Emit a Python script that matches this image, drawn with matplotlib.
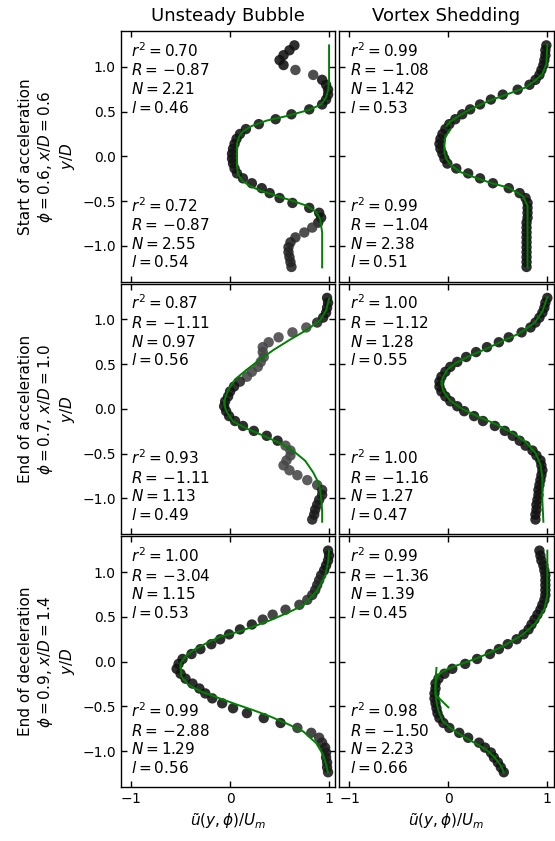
import matplotlib
matplotlib.use("Agg")
import matplotlib.pyplot as plt

# ---------------------------------------------------------------------------
# data: sampled wake profiles u(y)/U_m on a common y/D grid, plus fitted curves
# ---------------------------------------------------------------------------
y_grid = [1.24, 1.185, 1.13, 1.075, 1.02, 0.965, 0.91, 0.855, 0.80, 0.745,
          0.69, 0.635, 0.58, 0.525, 0.47, 0.415, 0.36, 0.305, 0.25, 0.195,
          0.14, 0.085, 0.03, -0.025, -0.08, -0.135, -0.19, -0.245, -0.30, -0.355,
          -0.41, -0.465, -0.52, -0.575, -0.63, -0.685, -0.74, -0.795, -0.85, -0.905,
          -0.96, -1.015, -1.07, -1.125, -1.18, -1.235]

col_titles = ["Unsteady Bubble", "Vortex Shedding"]
row_labels = ["Start of acceleration\n$\\phi = 0.6$, $x/D = 0.6$\n$y/D$",
              "End of acceleration\n$\\phi = 0.7$, $x/D = 1.0$\n$y/D$",
              "End of deceleration\n$\\phi = 0.9$, $x/D = 1.4$\n$y/D$"]

# Unsteady bubble, start of acceleration
ub_start_u = [0.65, 0.60, 0.54, 0.50, 0.54, 0.66, 0.84, 0.93, 0.97, 0.99,
              0.99, 0.97, 0.93, 0.80, 0.62, 0.46, 0.29, 0.16, 0.10, 0.065,
              0.045, 0.03, 0.02, 0.02, 0.03, 0.045, 0.07, 0.13, 0.22, 0.32,
              0.40, 0.50, 0.63, 0.80, 0.90, 0.92, 0.89, 0.83, 0.75, 0.66,
              0.61, 0.59, 0.59, 0.60, 0.61, 0.62]
ub_start_shade = [0.1, 0.1, 0.1, 0.1, 0.1, 0.3, 0.3, 0.1, 0.1, 0.1,
                  0.1, 0.1, 0.1, 0.1, 0.1, 0.1, 0.1, 0.1, 0.1, 0.1,
                  0.1, 0.1, 0.1, 0.1, 0.1, 0.1, 0.1, 0.1, 0.1, 0.1,
                  0.1, 0.1, 0.1, 0.1, 0.1, 0.1, 0.15, 0.3, 0.3, 0.25,
                  0.2, 0.2, 0.2, 0.2, 0.2, 0.2]
ub_start_fit_up_y = [1.24, 1.00, 0.85, 0.74, 0.66, 0.58, 0.52, 0.45, 0.40, 0.34, 0.28, 0.22, 0.14, 0.00, -0.10]
ub_start_fit_up_u = [1.00, 1.00, 1.00, 0.99, 0.97, 0.92, 0.80, 0.57, 0.37, 0.22, 0.13, 0.09, 0.07, 0.07, 0.07]
ub_start_fit_lo_y = [0.10, -0.10, -0.20, -0.27, -0.33, -0.38, -0.44, -0.50, -0.55, -0.62, -0.70, -0.85, -1.05, -1.24]
ub_start_fit_lo_u = [0.07, 0.07, 0.08, 0.12, 0.20, 0.30, 0.47, 0.64, 0.77, 0.87, 0.91, 0.93, 0.93, 0.93]
ub_start_stats = [(0.70, -0.87, 2.21, 0.46), (0.72, -0.87, 2.55, 0.54)]

# Vortex shedding, start of acceleration
vs_start_u = [0.99, 0.98, 0.98, 0.97, 0.96, 0.94, 0.92, 0.88, 0.82, 0.70,
              0.55, 0.43, 0.32, 0.22, 0.14, 0.07, 0.01, -0.03, -0.06, -0.08,
              -0.09, -0.08, -0.06, -0.04, -0.01, 0.08, 0.20, 0.32, 0.45, 0.61,
              0.72, 0.78, 0.80, 0.80, 0.80, 0.80, 0.79, 0.79, 0.79, 0.79,
              0.79, 0.79, 0.79, 0.79, 0.79, 0.79]
vs_start_shade = [0.1] * 46
vs_start_fit_up_y = [1.25, 1.03, 0.92, 0.85, 0.77, 0.70, 0.62, 0.52, 0.44, 0.39, 0.34]
vs_start_fit_up_u = [1.00, 0.99, 0.95, 0.88, 0.78, 0.61, 0.41, 0.21, 0.09, 0.02, -0.02]
vs_start_fit_lo_y = [0.30, 0.22, 0.12, 0.04, -0.03, -0.09, -0.17, -0.24, -0.30, -0.35, -0.44, -0.55, -0.70, -1.24]
vs_start_fit_lo_u = [0.02, -0.03, -0.04, -0.04, -0.02, 0.02, 0.11, 0.28, 0.44, 0.61, 0.75, 0.80, 0.80, 0.80]
vs_start_stats = [(0.99, -1.08, 1.42, 0.53), (0.99, -1.04, 2.38, 0.51)]

# Unsteady bubble, end of acceleration
ub_acc_u = [0.98, 0.99, 0.98, 0.97, 0.94, 0.88, 0.77, 0.63, 0.49, 0.39,
            0.33, 0.33, 0.34, 0.31, 0.28, 0.22, 0.17, 0.10, 0.04, 0.00,
            -0.02, -0.05, -0.06, -0.04, -0.01, 0.05, 0.13, 0.24, 0.37, 0.48,
            0.56, 0.61, 0.61, 0.57, 0.54, 0.60, 0.68, 0.78, 0.88, 0.93,
            0.93, 0.90, 0.88, 0.86, 0.85, 0.83]
ub_acc_shade = [0.1, 0.1, 0.1, 0.1, 0.1, 0.2, 0.4, 0.4, 0.4, 0.4,
                0.4, 0.4, 0.4, 0.4, 0.4, 0.4, 0.4, 0.2, 0.1, 0.1,
                0.1, 0.1, 0.1, 0.1, 0.1, 0.1, 0.1, 0.1, 0.1, 0.1,
                0.4, 0.4, 0.4, 0.4, 0.4, 0.4, 0.4, 0.4, 0.35, 0.2,
                0.15, 0.15, 0.15, 0.15, 0.15, 0.15]
ub_acc_fit_up_y = [1.23, 1.10, 0.99, 0.88, 0.77, 0.66, 0.55, 0.44, 0.33, 0.21, 0.12, 0.05]
ub_acc_fit_up_u = [1.00, 0.97, 0.91, 0.77, 0.60, 0.44, 0.30, 0.17, 0.05, -0.02, -0.05, -0.06]
ub_acc_fit_lo_y = [0.09, 0.01, -0.04, -0.14, -0.22, -0.30, -0.38, -0.47, -0.58, -0.71, -0.84, -0.99, -1.14, -1.26]
ub_acc_fit_lo_u = [-0.06, -0.05, -0.03, 0.03, 0.17, 0.34, 0.50, 0.64, 0.76, 0.84, 0.90, 0.92, 0.93, 0.93]
ub_acc_stats = [(0.87, -1.11, 0.97, 0.56), (0.93, -1.11, 1.13, 0.49)]

# Vortex shedding, end of acceleration
vs_acc_u = [1.00, 0.98, 0.97, 0.95, 0.92, 0.88, 0.83, 0.74, 0.61, 0.51,
            0.39, 0.28, 0.18, 0.09, 0.02, -0.03, -0.07, -0.09, -0.09, -0.07,
            -0.03, 0.02, 0.09, 0.16, 0.26, 0.35, 0.47, 0.57, 0.65, 0.72,
            0.78, 0.85, 0.89, 0.93, 0.94, 0.95, 0.94, 0.93, 0.92, 0.91,
            0.91, 0.90, 0.89, 0.89, 0.88, 0.88]
vs_acc_shade = [0.1] * 46
vs_acc_fit_up_y = [1.25, 1.09, 0.96, 0.84, 0.76, 0.67, 0.59, 0.51, 0.44, 0.34, 0.27]
vs_acc_fit_up_u = [1.00, 0.95, 0.87, 0.71, 0.55, 0.38, 0.21, 0.07, -0.01, -0.06, -0.07]
vs_acc_fit_lo_y = [0.31, 0.23, 0.18, 0.09, 0.00, -0.09, -0.17, -0.27, -0.37, -0.49, -0.62, -0.77, -1.03, -1.26]
vs_acc_fit_lo_u = [-0.07, -0.06, -0.04, 0.02, 0.14, 0.31, 0.48, 0.65, 0.78, 0.88, 0.93, 0.95, 0.95, 0.96]
vs_acc_stats = [(1.00, -1.12, 1.28, 0.55), (1.00, -1.16, 1.27, 0.47)]

# Unsteady bubble, end of deceleration
ub_dec_u = [0.99, 1.00, 0.99, 0.97, 0.95, 0.92, 0.90, 0.88, 0.86, 0.83,
            0.78, 0.70, 0.56, 0.43, 0.33, 0.22, 0.10, -0.01, -0.10, -0.19,
            -0.30, -0.39, -0.48, -0.52, -0.54, -0.50, -0.45, -0.38, -0.31, -0.25,
            -0.18, -0.08, 0.03, 0.17, 0.34, 0.51, 0.68, 0.82, 0.90, 0.93,
            0.96, 0.97, 0.97, 0.98, 0.98, 0.99]
ub_dec_shade = [0.1, 0.1, 0.1, 0.1, 0.1, 0.15, 0.2, 0.2, 0.2, 0.2,
                0.25, 0.25, 0.25, 0.25, 0.2, 0.1, 0.1, 0.1, 0.1, 0.1,
                0.1, 0.1, 0.1, 0.1, 0.1, 0.1, 0.1, 0.1, 0.1, 0.1,
                0.1, 0.1, 0.1, 0.1, 0.1, 0.1, 0.25, 0.25, 0.25, 0.2,
                0.15, 0.15, 0.15, 0.15, 0.15, 0.15]
ub_dec_fit_up_y = [1.24, 1.11, 0.96, 0.78, 0.63, 0.54, 0.46, 0.39, 0.33, 0.28, 0.20, 0.13, 0.06, -0.02, -0.07]
ub_dec_fit_up_u = [1.00, 0.99, 0.96, 0.87, 0.74, 0.57, 0.40, 0.23, 0.07, -0.10, -0.25, -0.37, -0.45, -0.50, -0.50]
ub_dec_fit_lo_y = [-0.06, -0.17, -0.26, -0.33, -0.40, -0.48, -0.54, -0.61, -0.69, -0.78, -0.91, -1.04, -1.15, -1.24]
ub_dec_fit_lo_u = [-0.50, -0.49, -0.42, -0.30, -0.13, 0.07, 0.23, 0.40, 0.57, 0.74, 0.87, 0.94, 0.97, 0.99]
ub_dec_stats = [(1.00, -3.04, 1.15, 0.53), (0.99, -2.88, 1.29, 0.56)]

# Vortex shedding, end of deceleration
vs_dec_u = [0.92, 0.93, 0.94, 0.96, 0.97, 0.98, 0.98, 0.98, 0.98, 0.98,
            0.97, 0.95, 0.93, 0.90, 0.87, 0.84, 0.81, 0.76, 0.69, 0.60,
            0.51, 0.42, 0.29, 0.17, 0.04, -0.04, -0.10, -0.13, -0.13, -0.14,
            -0.14, -0.13, -0.12, -0.11, -0.09, -0.05, 0.01, 0.11, 0.20, 0.31,
            0.37, 0.43, 0.46, 0.50, 0.53, 0.56]
vs_dec_shade = [0.1] * 46
vs_dec_fit_up_y = [1.24, 0.96, 0.74, 0.59, 0.43, 0.30, 0.19, 0.09, 0.03, -0.06, -0.11, -0.16, -0.25, -0.37, -0.51]
vs_dec_fit_up_u = [1.00, 1.00, 1.00, 0.97, 0.88, 0.75, 0.58, 0.40, 0.27, 0.04, -0.06, -0.11, -0.13, -0.13, 0.00]
vs_dec_fit_lo_y = [-0.07, -0.20, -0.35, -0.45, -0.55, -0.66, -0.74, -0.83, -0.91, -0.98, -1.06, -1.16, -1.24]
vs_dec_fit_lo_u = [-0.12, -0.13, -0.13, -0.12, -0.10, -0.06, 0.02, 0.14, 0.27, 0.38, 0.46, 0.53, 0.56]
vs_dec_stats = [(0.99, -1.36, 1.39, 0.45), (0.98, -1.50, 2.23, 0.66)]

panels = [
    [(ub_start_u, ub_start_shade, ub_start_fit_up_y, ub_start_fit_up_u, ub_start_fit_lo_y, ub_start_fit_lo_u, ub_start_stats),
     (vs_start_u, vs_start_shade, vs_start_fit_up_y, vs_start_fit_up_u, vs_start_fit_lo_y, vs_start_fit_lo_u, vs_start_stats)],
    [(ub_acc_u, ub_acc_shade, ub_acc_fit_up_y, ub_acc_fit_up_u, ub_acc_fit_lo_y, ub_acc_fit_lo_u, ub_acc_stats),
     (vs_acc_u, vs_acc_shade, vs_acc_fit_up_y, vs_acc_fit_up_u, vs_acc_fit_lo_y, vs_acc_fit_lo_u, vs_acc_stats)],
    [(ub_dec_u, ub_dec_shade, ub_dec_fit_up_y, ub_dec_fit_up_u, ub_dec_fit_lo_y, ub_dec_fit_lo_u, ub_dec_stats),
     (vs_dec_u, vs_dec_shade, vs_dec_fit_up_y, vs_dec_fit_up_u, vs_dec_fit_lo_y, vs_dec_fit_lo_u, vs_dec_stats)],
]

# ---------------------------------------------------------------------------
# layout
# ---------------------------------------------------------------------------
plt.rcParams['font.family'] = 'DejaVu Sans'
plt.rcParams['mathtext.fontset'] = 'dejavusans'

fig = plt.figure(figsize=(5.55, 8.41), dpi=100)

col_left = [0.2175, 0.6108]
row_bottom = [0.665, 0.3647, 0.0642]
ax_w, ax_h = 0.387, 0.2981


def fmt_num(v):
    # negative values get a little extra room after the equals sign
    if v < 0:
        return "\\,{-}%.2f" % abs(v)
    return "%.2f" % v


def stats_text(s):
    r2, R, N, l = s
    return ("$r^2 = %s$\n$R = %s$\n$N = %s$\n$l = %s$"
            % (fmt_num(r2), fmt_num(R), fmt_num(N), fmt_num(l)))


for r in range(3):
    for c in range(2):
        u, shade, fuy, fuu, fly, flu, stats = panels[r][c]
        ax = fig.add_axes([col_left[c], row_bottom[r], ax_w, ax_h])
        colors = [(0.7 * s, 0.7 * s, 0.7 * s) for s in shade]
        ax.scatter(u, y_grid, s=56, c=colors, alpha=0.88, linewidths=0, zorder=2)
        ax.plot(fuu, fuy, color='green', lw=1.4, zorder=3)
        ax.plot(flu, fly, color='green', lw=1.4, zorder=3)

        ax.text(0.05, 0.96, stats_text(stats[0]), transform=ax.transAxes,
                fontsize=11, va='top', ha='left')
        ax.text(0.05, 0.045, stats_text(stats[1]), transform=ax.transAxes,
                fontsize=11, va='bottom', ha='left')

        ax.set_xlim(-1.105, 1.065)
        ax.set_ylim(-1.4, 1.4)
        ax.set_xticks([-1, 0, 1])
        ax.set_yticks([-1.0, -0.5, 0.0, 0.5, 1.0])
        ax.tick_params(direction='in', top=True, right=True, length=4,
                       width=1, labelsize=10)
        for sp in ax.spines.values():
            sp.set_linewidth(1.0)

        if c == 0:
            ax.set_ylabel(row_labels[r], fontsize=11)
        else:
            ax.set_yticklabels([])
        if r == 2:
            ax.set_xticklabels(['$-1$', '0', '1'])
            ax.set_xlabel(r'$\tilde{u}(y,\phi)/U_m$', fontsize=11)
        else:
            ax.set_xticklabels([])
        if r == 0:
            ax.set_title(col_titles[c], fontsize=13, pad=7)

fig.savefig("out.png", dpi=100)
